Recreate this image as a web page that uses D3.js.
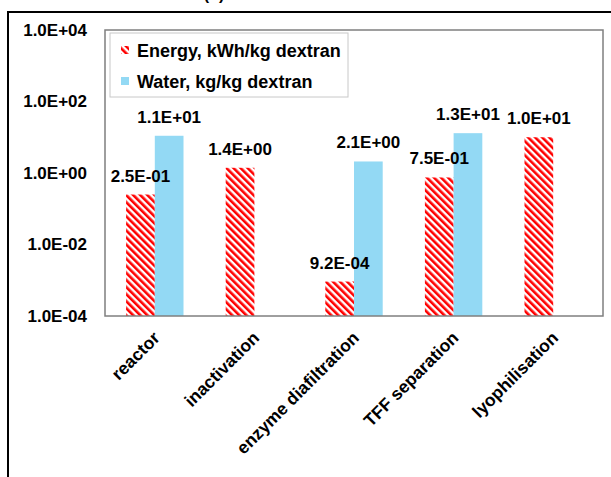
<!DOCTYPE html>
<html>
<head>
<meta charset="utf-8">
<script src="https://cdn.jsdelivr.net/npm/d3@7"></script>
<style>
  body { margin: 0; background: #fff; }
  text { font-family: "Liberation Sans", Arial, sans-serif; font-weight: bold; fill: #000; }
</style>
</head>
<body>
<div id="chart"></div>
<script>
(function () {

  // Data
  const categories = ["reactor", "inactivation", "enzyme diafiltration", "TFF separation", "lyophilisation"]
  const energy = [0.25, 1.4, 0.00092, 0.75, 10]
  const water = [11, null, 2.1, 13, null]
  const seriesNames = ["Energy, kWh/kg dextran", "Water, kg/kg dextran"]
  const yTicks = [1e-4, 1e-2, 1, 1e2, 1e4]

  const W = 611, H = 477
  const plot = { left: 105, right: 603, top: 30, bottom: 316 }

  const svg = d3.select("#chart").append("svg")
      .attr("width", W)
      .attr("height", H)

  // Hatch pattern for energy bars
  const defs = svg.append("defs")
  defs.append("pattern")
      .attr("id", "hatch")
      .attr("patternUnits", "userSpaceOnUse")
      .attr("width", 5)
      .attr("height", 5)
      .attr("patternTransform", "rotate(-45)")
    .append("rect")
      .attr("width", 2.6)
      .attr("height", 5)
      .attr("fill", "#ff0000")

  const colors = ["url(#hatch)", "#93d9f4"]

  // Scales
  const y = d3.scaleLog()
    .domain([1e-4, 1e4])
    .range([plot.bottom, plot.top])

  const x0 = d3.scaleBand()
    .domain(categories)
    .range([plot.left, plot.right])

  const x1 = d3.scaleBand()
    .domain([0, 1])
    .range([0, x0.bandwidth()])
    .paddingOuter(0.735)

  function sci(v) {
    const e = Math.floor(Math.log10(v) + 1e-9)
    const m = v / Math.pow(10, e)
    return m.toFixed(1) + "E" + (e < 0 ? "-" : "+") + String(Math.abs(e)).padStart(2, "0")
  }

  // Outer frame (cropped figure border)
  svg.append("path")
      .attr("d", "M8," + H + "V12H" + W)
      .attr("fill", "none")
      .attr("stroke", "#000")
      .attr("stroke-width", 2)

  // Cropped panel tag at top
  svg.append("text")
      .attr("x", 214)
      .attr("y", 0)
      .attr("text-anchor", "middle")
      .style("font-size", "16px")
      .text("(b)")

  // Bars
  const cells = []
  categories.forEach((c, i) => {
    if (energy[i] != null) cells.push({ cat: c, k: 0, v: energy[i] })
    if (water[i] != null) cells.push({ cat: c, k: 1, v: water[i] })
  })

  const cx = d => x0(d.cat) + x1(d.k)

  svg.selectAll(".bar")
    .data(cells)
    .join("rect")
      .attr("class", "bar")
      .attr("x", d => cx(d))
      .attr("width", x1.bandwidth())
      .attr("y", d => y(d.v))
      .attr("height", d => y(1e-4) - y(d.v))
      .attr("fill", d => colors[d.k])

  svg.selectAll(".lbl")
    .data(cells)
    .join("text")
      .attr("class", "lbl")
      .attr("x", d => cx(d) + x1.bandwidth() / 2)
      .attr("y", d => y(d.v) - 13)
      .attr("text-anchor", "middle")
      .style("font-size", "17px")
      .text(d => sci(d.v))

  // Plot border
  svg.append("rect")
      .attr("x", plot.left)
      .attr("y", plot.top)
      .attr("width", plot.right - plot.left)
      .attr("height", plot.bottom - plot.top)
      .attr("fill", "none")
      .attr("stroke", "#7f7f7f")
      .attr("stroke-width", 1.5)

  // Y axis
  const yAxis = svg.append("g")
      .attr("transform", "translate(" + plot.left + ",0)")
      .call(d3.axisLeft(y).tickValues(yTicks).tickSize(0).tickPadding(18).tickFormat(sci))
  yAxis.select(".domain").remove()
  yAxis.selectAll("text")
      .style("font-size", "17px")
      .style("font-family", "'Liberation Sans', Arial, sans-serif")
      .style("font-weight", "bold")

  // Category labels
  svg.selectAll(".cat")
    .data(categories)
    .join("text")
      .attr("class", "cat")
      .attr("text-anchor", "end")
      .attr("transform", d => "translate(" + (x0(d) + x0.bandwidth() / 2 + 6) + ",339) rotate(-45)")
      .style("font-size", "17.5px")
      .text(d => d)

  // Legend
  const legend = svg.append("g")
  legend.append("rect")
      .attr("x", 110)
      .attr("y", 33)
      .attr("width", 238)
      .attr("height", 64)
      .attr("fill", "#fff")
      .attr("stroke", "#c8c8c8")
      .attr("stroke-width", 1)

  const items = legend.selectAll(".item")
    .data(seriesNames)
    .join("g")
      .attr("class", "item")
      .attr("transform", (d, i) => "translate(121," + (50 + i * 31) + ")")

  items.append("rect")
      .attr("x", 0)
      .attr("y", -4)
      .attr("width", 8)
      .attr("height", 8)
      .attr("fill", (d, i) => colors[i])

  items.append("text")
      .attr("x", 16)
      .attr("y", 6.5)
      .style("font-size", "18px")
      .text(d => d)

})();
</script>
</body>
</html>
